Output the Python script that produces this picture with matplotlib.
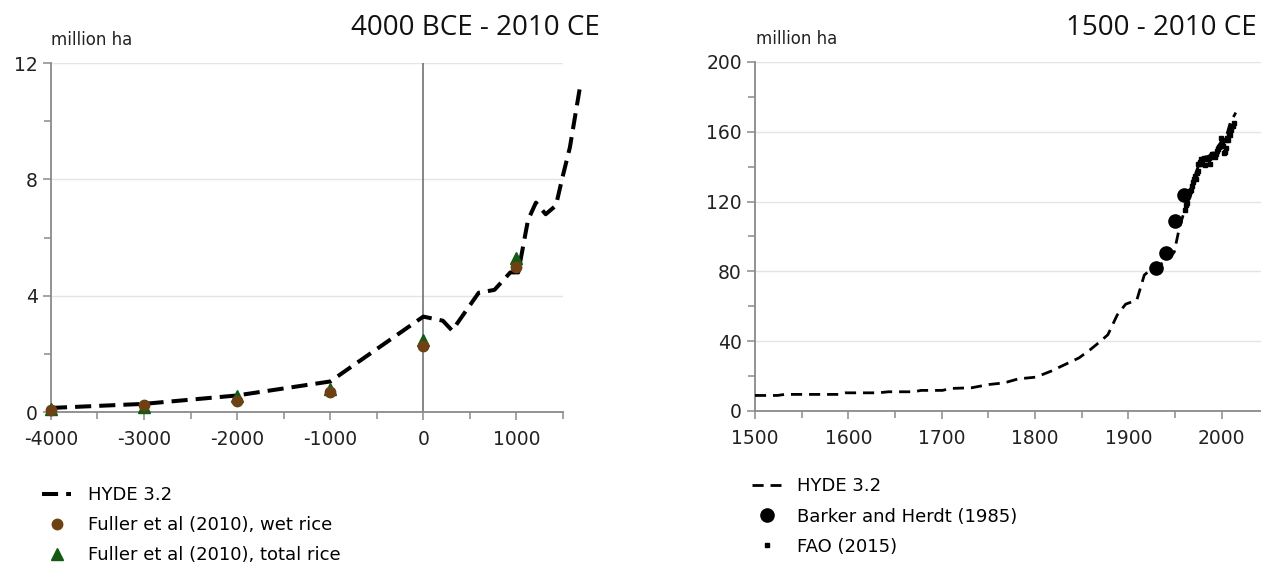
import matplotlib
matplotlib.use("Agg")
import matplotlib.pyplot as plt
from matplotlib.ticker import MultipleLocator, FixedLocator

# left panel: 4000 BCE - 2010 CE
hyde_long_years = [-4000, -3000, -2000, -1000, 0, 210, 310, 595, 765, 935, 1020,
                   1125, 1210, 1315, 1425, 1490, 1575, 1690]
hyde_long_area = [0.14, 0.28, 0.57, 1.05, 3.28, 3.14, 2.8, 4.1, 4.2, 4.8, 4.8,
                  6.6, 7.2, 6.8, 7.1, 8.0, 9.1, 11.3]
fuller_years = [-4000, -3000, -2000, -1000, 0, 1000]
fuller_wet = [0.06, 0.25, 0.37, 0.68, 2.28, 4.98]
fuller_total = [0.09, 0.17, 0.54, 0.80, 2.49, 5.30]

# right panel: 1500 - 2010 CE
hyde_years = [1500, 1524, 1532, 1590, 1597, 1632, 1643, 1670, 1678, 1701, 1709,
              1732, 1751, 1767, 1782, 1801, 1817, 1832, 1847, 1859, 1870, 1878,
              1888, 1897, 1909, 1917, 1926, 1940, 1949, 1955, 1963, 1970, 1978,
              1986, 1993, 1999, 2005, 2009, 2015]
hyde_area = [8.9, 8.9, 9.5, 9.5, 10.4, 10.4, 11.0, 11.0, 11.8, 11.8, 12.9,
             13.3, 15.2, 16.1, 18.4, 19.4, 22.8, 26.6, 30.4, 35.1, 39.9, 43.7,
             55.0, 61.2, 63.6, 77.9, 82.0, 85.5, 91.0, 106.0, 119.7, 133.0, 145.0,
             146.0, 149.0, 154.0, 157.6, 165.0, 171.0]
barker_years = [1930, 1940, 1950, 1960]
barker_area = [81.7, 90.6, 109.0, 124.0]
fao_years = list(range(1961, 2014))
fao_area = [115.4, 117.8, 119.3, 124.2, 124.7, 125.8, 126.5, 128.9, 131.5, 132.9,
            134.7, 133.0, 136.5, 137.8, 141.7, 141.4, 142.6, 144.4, 141.8, 144.4,
            145.2, 141.0, 144.4, 144.2, 144.4, 145.1, 141.6, 145.7, 147.4, 146.9,
            147.4, 147.3, 145.8, 147.5, 149.1, 150.3, 151.3, 151.7, 156.7, 154.1,
            151.9, 147.6, 148.4, 150.9, 155.1, 156.3, 155.4, 158.7, 158.3, 161.0,
            163.3, 163.3, 165.0]

brown = "#6e4114"
green = "#145a14"
axis_grey = "#8a8a8a"
grid_grey = "#e4e4e4"

plt.rcParams["font.family"] = "DejaVu Sans"
plt.rcParams["axes.unicode_minus"] = False

fig = plt.figure(figsize=(12.61, 5.76), dpi=100)
ax1 = fig.add_axes([0.0404, 0.2847, 0.4060, 0.6059])
ax2 = fig.add_axes([0.5987, 0.2865, 0.4013, 0.6059])


def style_axes(ax):
    for s in ["top", "right"]:
        ax.spines[s].set_visible(False)
    for s in ["left", "bottom"]:
        ax.spines[s].set_color(axis_grey)
        ax.spines[s].set_linewidth(1.3)
    ax.tick_params(which="both", direction="out", color=axis_grey, width=1.1,
                   labelsize=13.5, labelcolor="#222222")
    ax.tick_params(which="major", length=6)
    ax.tick_params(which="minor", length=5)
    ax.tick_params(axis="x", which="major", pad=7)
    ax.yaxis.grid(True, which="major", color=grid_grey, linewidth=1)
    ax.set_axisbelow(True)


# ---- left
style_axes(ax1)
ax1.set_xlim(-4000, 1500)
ax1.set_ylim(0, 12)
ax1.xaxis.set_major_locator(FixedLocator([-4000, -3000, -2000, -1000, 0, 1000]))
ax1.xaxis.set_minor_locator(MultipleLocator(500))
ax1.yaxis.set_major_locator(MultipleLocator(4))
ax1.yaxis.set_minor_locator(MultipleLocator(2))
ax1.axvline(0, color="#666666", linewidth=1.1, zorder=1)

l1, = ax1.plot(hyde_long_years, hyde_long_area, color="black", linewidth=2.9,
               linestyle=(0, (4, 2)), clip_on=False, zorder=3, label="HYDE 3.2")
t1, = ax1.plot(fuller_years, fuller_total, linestyle="none", marker="^",
               markersize=8, color=green, clip_on=False, zorder=4,
               label="Fuller et al (2010), total rice")
c1, = ax1.plot(fuller_years, fuller_wet, linestyle="none", marker="o",
               markersize=7.5, color=brown, clip_on=False, zorder=5,
               label="Fuller et al (2010), wet rice")

fig.text(51 / 1261, 1 - 40 / 576, "million ha", fontsize=12, color="#222222",
         ha="left", va="center")
fig.text(600 / 1261, 1 - 28 / 576, "4000 BCE - 2010 CE", fontsize=20,
         family="Open Sans", color="#111111", ha="right", va="center")

leg1 = ax1.legend([l1, c1, t1], [l1.get_label(), c1.get_label(), t1.get_label()],
                  loc="upper left", bbox_to_anchor=(35 / 1261, 1 - 479 / 576),
                  bbox_transform=fig.transFigure, frameon=False, fontsize=13,
                  handlelength=1.6, handletextpad=0.95, labelspacing=0.67,
                  borderaxespad=0)

# ---- right
style_axes(ax2)
ax2.set_xlim(1500, 2042)
ax2.set_ylim(0, 200)
ax2.xaxis.set_major_locator(MultipleLocator(100))
ax2.xaxis.set_minor_locator(MultipleLocator(50))
ax2.yaxis.set_major_locator(MultipleLocator(40))
ax2.yaxis.set_minor_locator(MultipleLocator(20))

l2, = ax2.plot(hyde_years, hyde_area, color="black", linewidth=2.0,
               linestyle=(0, (4, 2.5)), zorder=3, label="HYDE 3.2")
c2, = ax2.plot(barker_years, barker_area, linestyle="none", marker="o",
               markersize=9.5, color="black", zorder=4,
               label="Barker and Herdt (1985)")
s2, = ax2.plot(fao_years, fao_area, linestyle="none", marker="s",
               markersize=3.2, color="black", zorder=4, label="FAO (2015)")

fig.text(756 / 1261, 1 - 39 / 576, "million ha", fontsize=12, color="#222222",
         ha="left", va="center")
fig.text(1257 / 1261, 1 - 28 / 576, "1500 - 2010 CE", fontsize=20,
         family="Open Sans", color="#111111", ha="right", va="center")

leg2 = ax2.legend([l2, c2, s2], [l2.get_label(), c2.get_label(), s2.get_label()],
                  loc="upper left", bbox_to_anchor=(745 / 1261, 1 - 470 / 576),
                  bbox_transform=fig.transFigure, frameon=False, fontsize=13,
                  handlelength=1.6, handletextpad=0.9, labelspacing=0.68,
                  borderaxespad=0)

fig.savefig("out.png", dpi=100)
